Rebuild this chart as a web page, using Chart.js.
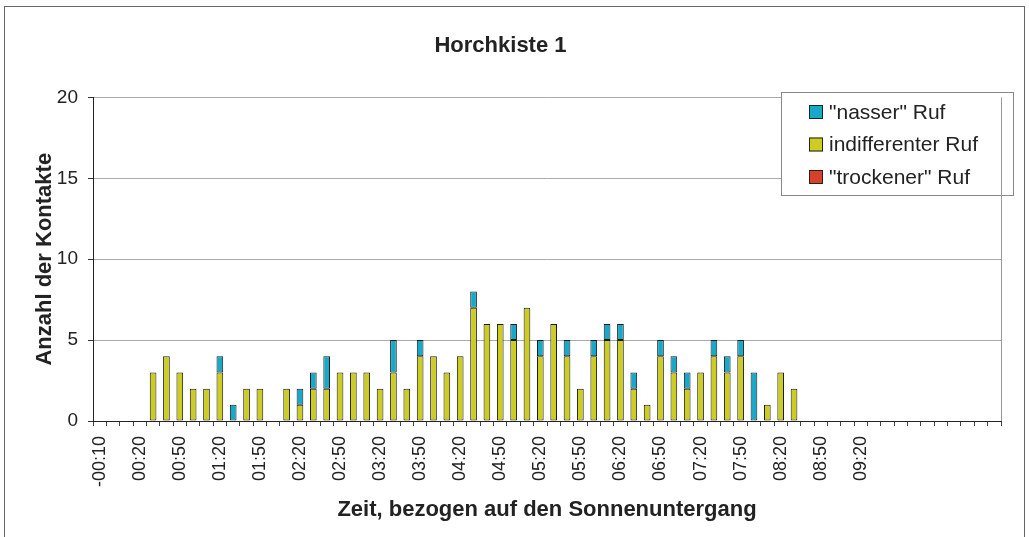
<!DOCTYPE html>
<html>
<head>
<meta charset="utf-8">
<title>Horchkiste 1</title>
<script src="https://cdn.jsdelivr.net/npm/chart.js@4.4.1/dist/chart.umd.min.js"></script>
<style>
  html, body { margin: 0; padding: 0; background: #fff; }
  canvas { display: block; }
</style>
</head>
<body>
<canvas id="chart" width="1029" height="537"></canvas>
<script>
// 10-minute bins relative to sunset; only every third label is printed
const zeiten = [
  "-00:10", "00:00", "00:10", "00:20", "00:30", "00:40", "00:50", "01:00", "01:10", "01:20",
  "01:30", "01:40", "01:50", "02:00", "02:10", "02:20", "02:30", "02:40", "02:50", "03:00",
  "03:10", "03:20", "03:30", "03:40", "03:50", "04:00", "04:10", "04:20", "04:30", "04:40",
  "04:50", "05:00", "05:10", "05:20", "05:30", "05:40", "05:50", "06:00", "06:10", "06:20",
  "06:30", "06:40", "06:50", "07:00", "07:10", "07:20", "07:30", "07:40", "07:50", "08:00",
  "08:10", "08:20", "08:30", "08:40", "08:50", "09:00", "09:10", "09:20", "", "",
  "", "", "", "", "", "", "", ""
];

const trockenerRuf = [
  0, 0, 0, 0, 0, 0, 0, 0, 0, 0,
  0, 0, 0, 0, 0, 0, 0, 0, 0, 0,
  0, 0, 0, 0, 0, 0, 0, 0, 0, 0,
  0, 0, 0, 0, 0, 0, 0, 0, 0, 0,
  0, 0, 0, 0, 0, 0, 0, 0, 0, 0,
  0, 0, 0, 0, 0, 0, 0, 0, 0, 0,
  0, 0, 0, 0, 0, 0, 0, 0
];

const indifferenterRuf = [
  0, 0, 0, 0, 3, 4, 3, 2, 2, 3,
  0, 2, 2, 0, 2, 1, 2, 2, 3, 3,
  3, 2, 3, 2, 4, 4, 3, 4, 7, 6,
  6, 5, 7, 4, 6, 4, 2, 4, 5, 5,
  2, 1, 4, 3, 2, 3, 4, 3, 4, 0,
  1, 3, 2, 0, 0, 0, 0, 0, 0, 0,
  0, 0, 0, 0, 0, 0, 0, 0
];

const nasserRuf = [
  0, 0, 0, 0, 0, 0, 0, 0, 0, 1,
  1, 0, 0, 0, 0, 1, 1, 2, 0, 0,
  0, 0, 2, 0, 1, 0, 0, 0, 1, 0,
  0, 1, 0, 1, 0, 1, 0, 1, 1, 1,
  1, 0, 1, 1, 1, 0, 1, 1, 1, 3,
  0, 0, 0, 0, 0, 0, 0, 0, 0, 0,
  0, 0, 0, 0, 0, 0, 0, 0
];

const FONT = "'Liberation Sans', Arial, sans-serif";
const TEXT = "#222";

const barStyle = {
  borderColor: "#1a1a1a",
  borderWidth: 1,
  borderSkipped: false,
  inflateAmount: 0,
  barPercentage: 0.5,
  categoryPercentage: 1.0,
};

// Excel-like legend box inside the plot, top series listed first
const legendBox = {
  id: "legendBox",
  afterDraw(chart) {
    const { ctx } = chart;
    const x = 781, y = 92, w = 232, h = 103;
    ctx.save();
    ctx.fillStyle = "#fff";
    ctx.fillRect(x, y, w, h);
    ctx.strokeStyle = "#888";
    ctx.lineWidth = 1;
    ctx.strokeRect(x + 0.5, y + 0.5, w, h);
    ctx.font = `21px ${FONT}`;
    ctx.textBaseline = "middle";
    const items = [...chart.data.datasets].reverse();
    items.forEach((ds, i) => {
      const cy = 112 + i * 32.5;
      ctx.fillStyle = ds.backgroundColor;
      ctx.fillRect(809, cy - 7, 14, 14);
      ctx.strokeStyle = "#222";
      ctx.strokeRect(809.5, cy - 6.5, 13, 13);
      ctx.fillStyle = TEXT;
      ctx.fillText(ds.label, 829, cy + 1);
    });
    ctx.restore();
  },
};

// right edge of plot area and outer frame
const frame = {
  id: "frame",
  afterDraw(chart) {
    const { ctx, chartArea } = chart;
    ctx.save();
    ctx.strokeStyle = "#999";
    ctx.lineWidth = 1;
    ctx.beginPath();
    ctx.moveTo(Math.round(chartArea.right) + 0.5, chartArea.top);
    ctx.lineTo(Math.round(chartArea.right) + 0.5, chartArea.bottom);
    ctx.stroke();
    ctx.strokeStyle = "#666";
    ctx.strokeRect(4.5, 6.5, 1020, 560);
    ctx.restore();
  },
};

const ctx = document.getElementById("chart").getContext("2d");

new Chart(ctx, {
  type: "bar",
  data: {
    labels: zeiten,
    datasets: [
      { label: "\"trockener\" Ruf", data: trockenerRuf, backgroundColor: "#d9402a", ...barStyle },
      { label: "indifferenter Ruf", data: indifferenterRuf, backgroundColor: "#cccc22", ...barStyle },
      { label: "\"nasser\" Ruf", data: nasserRuf, backgroundColor: "#19a9c8", ...barStyle },
    ],
  },
  options: {
    responsive: false,
    animation: false,
    layout: { padding: { top: 8, right: 28, left: 0, bottom: 0 } },
    plugins: {
      legend: { display: false },
      tooltip: { enabled: false },
      title: {
        display: true,
        text: "Horchkiste 1",
        color: TEXT,
        font: { family: FONT, size: 22, weight: "bold" },
        padding: { top: 25, bottom: 38 },
      },
    },
    scales: {
      x: {
        stacked: true,
        grid: { drawOnChartArea: false, offset: true, tickLength: 5, color: "#444" },
        border: { color: "#222" },
        ticks: {
          autoSkip: false,
          minRotation: 90,
          maxRotation: 90,
          padding: 10,
          color: TEXT,
          font: { family: FONT, size: 18 },
          callback: function (value, index) {
            return index % 3 === 0 ? this.getLabelForValue(value) : "";
          },
        },
        title: {
          display: true,
          text: "Zeit, bezogen auf den Sonnenuntergang",
          color: TEXT,
          font: { family: FONT, size: 22, weight: "bold" },
          padding: { top: 4, bottom: 14 },
        },
        afterFit: (scale) => { scale.height = 116; },
      },
      y: {
        stacked: true,
        min: 0,
        max: 20,
        ticks: { stepSize: 5, padding: 10, color: TEXT, font: { family: FONT, size: 19 } },
        grid: { color: "#aaa", tickLength: 5, tickColor: "#333" },
        border: { color: "#222" },
        title: {
          display: true,
          text: "Anzahl der Kontakte",
          color: TEXT,
          font: { family: FONT, size: 22, weight: "bold" },
          padding: { top: 32, bottom: 4 },
        },
        afterFit: (scale) => { scale.width = 93; },
      },
    },
  },
  plugins: [legendBox, frame],
});
</script>
</body>
</html>
